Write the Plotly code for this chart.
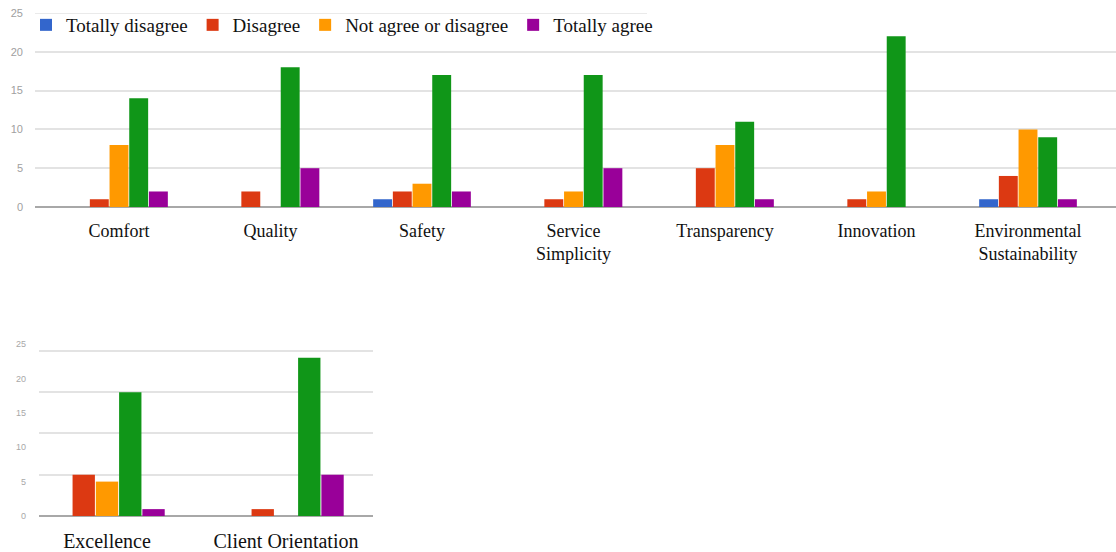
import plotly.graph_objects as go

# Survey answers per attribute (counts of respondents)
top_categories = ["Comfort", "Quality", "Safety", "Service<br>Simplicity",
                  "Transparency", "Innovation", "Environmental<br>Sustainability"]
top_totally_disagree = [0, 0, 1, 0, 0, 0, 1]
top_disagree = [1, 2, 2, 1, 5, 1, 4]
top_neutral = [8, 0, 3, 2, 8, 2, 10]
top_agree = [14, 18, 17, 17, 11, 22, 9]
top_totally_agree = [2, 5, 2, 5, 1, 0, 1]

bottom_categories = ["Excellence", "Client Orientation"]
bottom_totally_disagree = [0, 0]
bottom_disagree = [6, 1]
bottom_neutral = [5, 0]
bottom_agree = [18, 23]
bottom_totally_agree = [1, 6]

series_names = ["Totally disagree", "Disagree", "Not agree or disagree", "Agree", "Totally agree"]
series_colors = ["#3366cc", "#dc3912", "#ff9900", "#109618", "#990099"]
series_in_legend = [True, True, True, False, True]

y_ticks = [0, 5, 10, 15, 20, 25]
top_grid = [0, 5, 10, 15, 20]
bottom_grid = [0, 6, 12, 18, 24]

W, H = 1116, 552
SERIF = "Liberation Serif, Times New Roman, serif"
GRID = "#e3e3e3"

fig = go.Figure()

top_series = [top_totally_disagree, top_disagree, top_neutral, top_agree, top_totally_agree]
bottom_series = [bottom_totally_disagree, bottom_disagree, bottom_neutral, bottom_agree, bottom_totally_agree]

# empty helper traces so the grid-only overlay axes get drawn
fig.add_trace(go.Scatter(x=[], y=[], xaxis="x", yaxis="y3", showlegend=False, hoverinfo="skip"))
fig.add_trace(go.Scatter(x=[], y=[], xaxis="x2", yaxis="y4", showlegend=False, hoverinfo="skip"))

for name, color, show, vals in zip(series_names, series_colors, series_in_legend, top_series):
    fig.add_trace(go.Bar(x=top_categories, y=vals, name=name, legendgroup=name,
                         marker=dict(color=color, line=dict(width=0)),
                         showlegend=show, xaxis="x", yaxis="y"))

for name, color, vals in zip(series_names, series_colors, bottom_series):
    fig.add_trace(go.Bar(x=bottom_categories, y=vals, name=name, legendgroup=name,
                         marker=dict(color=color, line=dict(width=0)),
                         showlegend=False, xaxis="x2", yaxis="y2"))

# panel geometry (pixels)
top_x0, top_x1 = 35, 1116
top_y0, top_y25 = 207, 13
bot_x0, bot_x1 = 39, 373
bot_y0, bot_y25 = 516, 344

# category positions on the x axes
top_first, top_last = 119, 1028
top_step = (top_last - top_first) / (len(top_categories) - 1)
top_range = [-(top_first - top_x0) / top_step, len(top_categories) - 1 + (top_x1 - top_last) / top_step]

bot_first, bot_last = 107, 286
bot_step = bot_last - bot_first
bot_range = [-(bot_first - bot_x0) / bot_step, 1 + (bot_x1 - bot_last) / bot_step]

top_dom_y = [1 - top_y0 / H, 1 - top_y25 / H]
bot_dom_y = [1 - bot_y0 / H, 1 - bot_y25 / H]

xaxis_common = dict(showgrid=False, zeroline=False, showline=False, ticks="",
                    ticklabelstandoff=11, automargin=False, fixedrange=True)

fig.update_layout(
    width=W, height=H,
    margin=dict(l=0, r=0, t=0, b=0),
    paper_bgcolor="white", plot_bgcolor="rgba(0,0,0,0)",
    barmode="group", bargap=0.35, bargroupgap=0.04,
    xaxis=dict(domain=[top_x0 / W, top_x1 / W], range=top_range, anchor="y",
               tickfont=dict(family=SERIF, size=18, color="#111"), **xaxis_common),
    yaxis=dict(domain=top_dom_y, range=[0, 25], anchor="x", tickvals=y_ticks,
               showgrid=False, zeroline=True, zerolinecolor="#a8a8a8", zerolinewidth=2,
               tickfont=dict(family="Arial, sans-serif", size=11, color="#a0a0a0"),
               ticks="", ticklabelstandoff=11, automargin=False, fixedrange=True),
    yaxis3=dict(domain=top_dom_y, range=[0, 25], overlaying="y", anchor="x",
                tickvals=top_grid, showticklabels=False, showgrid=True, gridcolor=GRID,
                gridwidth=2, zeroline=False, ticks="", fixedrange=True),
    xaxis2=dict(domain=[bot_x0 / W, bot_x1 / W], range=bot_range, anchor="y2",
                tickfont=dict(family=SERIF, size=20, color="#111"), **xaxis_common),
    yaxis2=dict(domain=bot_dom_y, range=[0, 25], anchor="x2", tickvals=y_ticks,
                showgrid=False, zeroline=True, zerolinecolor="#a8a8a8", zerolinewidth=2,
                tickfont=dict(family="Arial, sans-serif", size=9, color="#a8a8a8"),
                ticks="", ticklabelstandoff=12, automargin=False, fixedrange=True),
    yaxis4=dict(domain=bot_dom_y, range=[0, 25], overlaying="y2", anchor="x2",
                tickvals=bottom_grid, showticklabels=False, showgrid=True, gridcolor=GRID,
                gridwidth=1.5, zeroline=False, ticks="", fixedrange=True),
    legend=dict(orientation="h", x=26 / W, xanchor="left", y=1 - 6 / H, yanchor="top",
                font=dict(family=SERIF, size=19, color="#111"),
                bgcolor="rgba(255,255,255,0)", itemwidth=30, tracegroupgap=0,
                itemclick=False, itemdoubleclick=False),
    shapes=[dict(type="line", xref="paper", yref="y", x0=top_x0 / W, x1=647 / W,
                 y0=25, y1=25, line=dict(color=GRID, width=1.5), layer="below")],
)

fig.write_html("out.html")
